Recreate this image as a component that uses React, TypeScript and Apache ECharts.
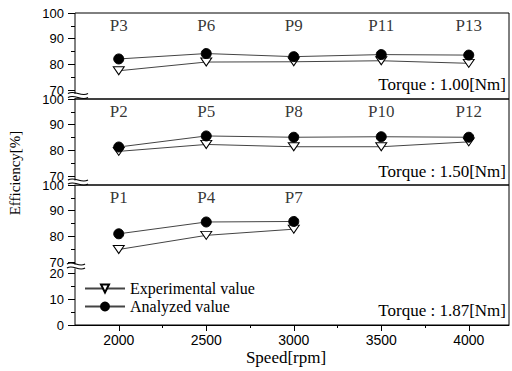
import React, { useEffect, useRef } from "react";
import * as echarts from "echarts";

const speeds = [2000, 2500, 3000, 3500, 4000];
const exp100 = [77.5, 80.9, 81.0, 81.4, 80.4];
const ana100 = [82.1, 84.2, 83.0, 83.8, 83.6];
const exp150 = [79.6, 82.3, 81.4, 81.4, 83.3];
const ana150 = [81.3, 85.6, 85.1, 85.3, 85.1];
const speeds187 = [2000, 2500, 3000];
const exp187 = [74.9, 80.4, 82.8];
const ana187 = [81.0, 85.6, 85.8];
const labels100 = ["P3", "P6", "P9", "P11", "P13"];
const labels150 = ["P2", "P5", "P8", "P10", "P12"];
const labels187 = ["P1", "P4", "P7"];
const labelLevel = 95.2;
const upperMajor = [70, 80, 90, 100];
const upperMinor = [75, 85, 95];
const lowerMajor = [0, 10, 20];
const lowerMinor = [5, 15];
const xMajor = [2000, 2500, 3000, 3500, 4000];
const xMinor = [2250, 2750, 3250, 3750];
const torques = ["Torque : 1.00[Nm]", "Torque : 1.50[Nm]", "Torque : 1.87[Nm]"];

const SANS = "Liberation Sans";
const SERIF = "Liberation Serif";

export default function App() {
  const ref = useRef<HTMLDivElement>(null);
  useEffect(() => {
    if (!ref.current) return;
    const chart = echarts.init(ref.current, undefined, { renderer: "svg" });
    const grids = [
      { left: 75, width: 434, top: 13, height: 86 },
      { left: 75, width: 434, top: 99, height: 86 },
      { left: 75, width: 434, top: 185, height: 140 },
    ].map((g) => ({ ...g, show: true, borderColor: "#000", borderWidth: 1, backgroundColor: "transparent" }));

    const X_MIN = 1750, X_MAX = 4230;
    const plain = (v: number) => String(v);
    const hiddenX = (gi: number) => ({
      type: "value", gridIndex: gi, min: X_MIN, max: X_MAX, position: "bottom",
      axisLine: { show: false, onZero: false }, axisTick: { show: false }, axisLabel: { show: false }, splitLine: { show: false },
    });
    const xAxes = [
      hiddenX(0),
      hiddenX(1),
      {
        type: "value", gridIndex: 2, min: X_MIN, max: X_MAX, position: "bottom",
        axisLine: { show: true, onZero: false, lineStyle: { color: "#000", width: 1 } },
        axisTick: { show: true, customValues: xMajor, length: 6, lineStyle: { color: "#000" } },
        axisLabel: { show: true, customValues: xMajor, formatter: plain, margin: 8, color: "#000", fontFamily: SANS, fontSize: 14 },
        splitLine: { show: false },
      },
      {
        type: "value", gridIndex: 2, min: X_MIN, max: X_MAX, position: "bottom",
        axisLine: { show: false, onZero: false },
        axisTick: { show: true, customValues: xMinor, length: 3, lineStyle: { color: "#000" } },
        axisLabel: { show: false }, splitLine: { show: false },
      },
    ];

    const yMain = (gi: number, min: number, max: number, major: number[]) => ({
      type: "value", gridIndex: gi, min, max, position: "left",
      axisLine: { show: false, onZero: false },
      axisTick: { show: true, customValues: major, length: 7, lineStyle: { color: "#000" } },
      axisLabel: { show: true, customValues: major, formatter: plain, margin: 11, color: "#000", fontFamily: SANS, fontSize: 13 },
      splitLine: { show: false },
    });
    const yMinor = (gi: number, min: number, max: number, minor: number[]) => ({
      type: "value", gridIndex: gi, min, max, position: "left",
      axisLine: { show: false, onZero: false },
      axisTick: { show: true, customValues: minor, length: 4, lineStyle: { color: "#000" } },
      axisLabel: { show: false }, splitLine: { show: false },
    });
    const yAxes = [
      yMain(0, 66.5, 100, upperMajor),
      yMinor(0, 66.5, 100, upperMinor),
      yMain(1, 66.5, 100, upperMajor),
      yMinor(1, 66.5, 100, upperMinor),
      yMain(2, 45.5, 100, upperMajor),
      yMinor(2, 45.5, 100, upperMinor),
      yMain(2, 0, 54.5, lowerMajor),
      yMinor(2, 0, 54.5, lowerMinor),
    ];

    const lineColor = "#444";
    const expSeries = (xs: number[], ys: number[], xi: number, yi: number) => ({
      type: "line", name: "Experimental value", xAxisIndex: xi, yAxisIndex: yi,
      data: xs.map((x, i) => [x, ys[i]]),
      symbol: "triangle", symbolRotate: 180, symbolSize: [11, 8],
      itemStyle: { color: "#fff", borderColor: "#000", borderWidth: 1 },
      lineStyle: { color: lineColor, width: 1 },
      emphasis: { disabled: true }, z: 3,
    });
    const anaSeries = (xs: number[], ys: number[], xi: number, yi: number) => ({
      type: "line", name: "Analyzed value", xAxisIndex: xi, yAxisIndex: yi,
      data: xs.map((x, i) => [x, ys[i]]),
      symbol: "circle", symbolSize: 10,
      itemStyle: { color: "#000", borderColor: "#000", borderWidth: 1 },
      lineStyle: { color: lineColor, width: 1 },
      emphasis: { disabled: true }, z: 4,
    });
    const labelSeries = (xs: number[], names: string[], xi: number, yi: number) => ({
      type: "scatter", name: "labels", xAxisIndex: xi, yAxisIndex: yi,
      data: xs.map((x, i) => ({ value: [x, labelLevel], name: names[i] })),
      symbolSize: 1, itemStyle: { color: "transparent" },
      label: { show: true, position: "inside", formatter: "{b}", color: "#000", fontFamily: SERIF, fontSize: 17 },
      emphasis: { disabled: true }, silent: true,
    });

    const series = [
      expSeries(speeds, exp100, 0, 0),
      anaSeries(speeds, ana100, 0, 0),
      labelSeries(speeds, labels100, 0, 0),
      expSeries(speeds, exp150, 1, 2),
      anaSeries(speeds, ana150, 1, 2),
      labelSeries(speeds, labels150, 1, 2),
      expSeries(speeds187, exp187, 2, 4),
      anaSeries(speeds187, ana187, 2, 4),
      labelSeries(speeds187, labels187, 2, 4),
    ];

    const wave = (x1: number, x2: number, y: number) => {
      const w = x2 - x1;
      return {
        type: "bezierCurve",
        shape: { x1, y1: y, x2, y2: y, cpx1: x1 + w / 3, cpy1: y - 4, cpx2: x1 + (2 * w) / 3, cpy2: y + 4 },
        style: { stroke: "#000", lineWidth: 1.2, fill: null },
        z: 100,
      };
    };
    const breakMark = (x1: number, x2: number, y: number) => [
      { type: "rect", shape: { x: x1 + 1, y: y - 1, width: x2 - x1 - 2, height: 4 }, style: { fill: "#fff" }, z: 99 },
      wave(x1, x2, y - 1.5),
      wave(x1, x2, y + 2.5),
    ];

    const torqueText = (text: string, y: number) => ({
      type: "text", x: 506, y, z: 100,
      style: { text, fill: "#000", font: `17px "${SERIF}"`, textAlign: "right", textVerticalAlign: "middle" },
    });

    const graphic = [
      ...breakMark(68, 88, 95),
      ...breakMark(68, 88, 181.5),
      ...breakMark(67, 85, 265.5),
      torqueText(torques[0], 84),
      torqueText(torques[1], 171),
      torqueText(torques[2], 310),
      {
        type: "text", x: 15, y: 173, rotation: Math.PI / 2, z: 100,
        style: { text: "Efficiency[%]", fill: "#000", font: `15px "${SERIF}"`, textAlign: "center", textVerticalAlign: "middle" },
      },
      {
        type: "text", x: 286, y: 357, z: 100,
        style: { text: "Speed[rpm]", fill: "#000", font: `17px "${SERIF}"`, textAlign: "center", textVerticalAlign: "middle" },
      },
    ];

    chart.setOption({
      animation: false,
      backgroundColor: "#fff",
      grid: grids,
      xAxis: xAxes,
      yAxis: yAxes,
      legend: {
        data: ["Experimental value", "Analyzed value"],
        orient: "vertical",
        left: 84,
        top: 280,
        itemWidth: 40,
        itemHeight: 10,
        itemGap: 1,
        padding: 0,
        selectedMode: false,
        textStyle: { color: "#000", fontFamily: SERIF, fontSize: 16, lineHeight: 17 },
      },
      series,
      graphic,
    });
    return () => chart.dispose();
  }, []);
  return <div ref={ref} style={{ position: "fixed", left: 0, top: 0, width: 512, height: 371 }} />;
}
